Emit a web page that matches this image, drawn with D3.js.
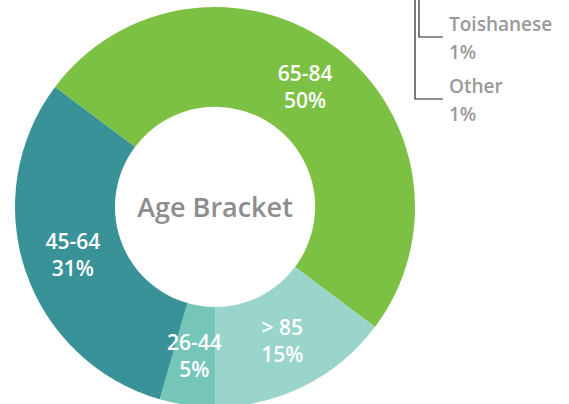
<!DOCTYPE html>
<html>
<head>
<meta charset="utf-8">
<script src="https://cdn.jsdelivr.net/npm/d3@7"></script>
<style>
  body { margin: 0; background: #fff; }
  svg { display: block; }
  text { font-family: "Open Sans", "DejaVu Sans", sans-serif; }
</style>
</head>
<body>
<svg id="chart" width="569" height="404"></svg>
<script>
// age brackets, in drawing order (clockwise from the upper left)
var brackets = ["65-84", "> 85", "26-44", "45-64"];
var shares = [50, 14.7, 4.5, 30.8];
var colors = ["#7cc143", "#99d5ca", "#75c6b8", "#3a9299"];

// leftover callouts at top right
var calloutNames = ["Toishanese", "Other"];
var calloutShares = [1, 1];

var width = 569, height = 404;
var cx = 215, cy = 207, outer = 200, inner = 100;

var svg = d3.select("#chart");
var g = svg.append("g").attr("transform", "translate(" + cx + "," + cy + ")");

var data = brackets.map(function(b, i) {
    return { name: b, value: shares[i], color: colors[i] };
});

var pie = d3.pie()
    .sort(null)
    .value(function(d) { return d.value; })
    .startAngle(-53.1 * Math.PI / 180)
    .endAngle((360 - 53.1) * Math.PI / 180);

var arc = d3.arc().innerRadius(inner).outerRadius(outer);
var labelArc = d3.arc().innerRadius(150).outerRadius(150);

var arcs = pie(data);

g.selectAll(".slice")
    .data(arcs)
    .enter().append("path")
    .attr("class", "slice")
    .attr("d", arc)
    .attr("fill", function(d) { return d.data.color; });

var labels = g.selectAll(".label")
    .data(arcs)
    .enter().append("text")
    .attr("class", "label")
    .attr("transform", function(d) {
        var c = labelArc.centroid(d);
        return "translate(" + c[0] + "," + c[1] + ")";
    })
    .attr("text-anchor", "middle")
    .attr("fill", "#fff")
    .attr("font-size", 21)
    .attr("font-weight", 600);

labels.append("tspan")
    .attr("x", 0)
    .attr("y", -6)
    .text(function(d) { return d.data.name; });

labels.append("tspan")
    .attr("x", 0)
    .attr("y", 21)
    .text(function(d) { return Math.round(d.data.value) + "%"; });

g.append("text")
    .attr("x", 0)
    .attr("y", 10)
    .attr("text-anchor", "middle")
    .attr("fill", "#8d8d8d")
    .attr("font-size", 27)
    .attr("font-weight", 600)
    .text("Age Bracket");

// callout lines and text
var callY = d3.scaleBand().domain(calloutNames).range([0, 124]);
var lineX = [419, 415];

var callouts = svg.selectAll(".callout")
    .data(calloutNames)
    .enter().append("g")
    .attr("class", "callout");

callouts.append("path")
    .attr("d", function(d, i) {
        var y = callY(d) + 37;
        return "M" + lineX[i] + ",0 V" + y + " H443";
    })
    .attr("fill", "none")
    .attr("stroke", "#222")
    .attr("stroke-width", 1.2);

callouts.append("text")
    .attr("x", 449)
    .attr("y", function(d) { return callY(d) + 31; })
    .attr("fill", "#999")
    .attr("font-size", 19)
    .attr("font-weight", 600)
    .text(function(d) { return d; });

callouts.append("text")
    .attr("x", 449)
    .attr("y", function(d) { return callY(d) + 59; })
    .attr("fill", "#999")
    .attr("font-size", 19)
    .attr("font-weight", 600)
    .text(function(d, i) { return calloutShares[i] + "%"; });
</script>
</body>
</html>
